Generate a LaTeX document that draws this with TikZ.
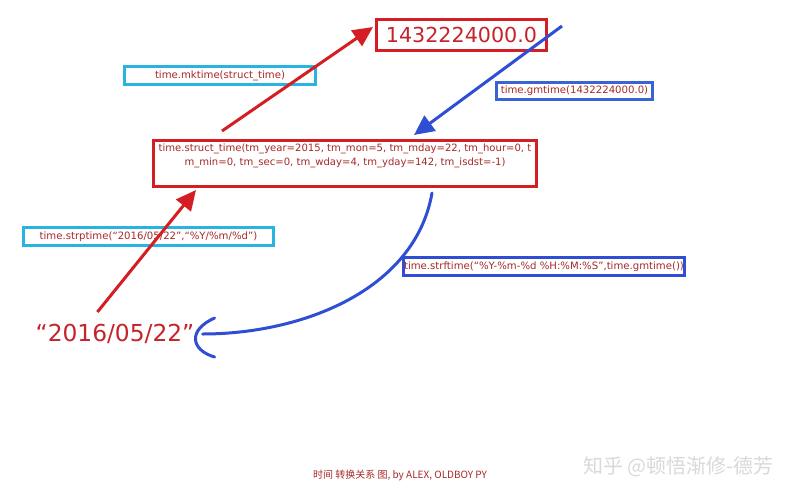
\documentclass[tikz,border=0pt]{standalone}
\usepackage{fontspec}
\setmainfont{DejaVu Sans}
\newfontfamily\cjk{Noto Sans CJK SC}
\usetikzlibrary{arrows.meta,calc}
\definecolor{redline}{RGB}{212,30,36}
\definecolor{redtext}{RGB}{196,36,42}
\definecolor{labeltext}{RGB}{165,42,40}
\definecolor{cyanline}{RGB}{40,180,225}
\definecolor{blueline}{RGB}{48,78,212}
\definecolor{bluebox}{RGB}{58,100,214}
\begin{document}
\begin{tikzpicture}[x=0.75pt,y=-0.75pt,
  box/.style={draw,line width=2.25pt,inner sep=0pt,text=labeltext,
    font=\fontsize{7.6}{9}\selectfont},
  redbox/.style={box,draw=redline},
  cyanbox/.style={box,draw=cyanline},
  bluebox/.style={box,draw=bluebox},
  redarrow/.style={draw=redline,line width=2.25pt,
    -{Triangle[length=15pt,width=14pt]},fill=redline},
  bluearrow/.style={draw=blueline,line width=2.25pt,
    -{Triangle[length=15pt,width=14pt]},fill=blueline},
  bluecurve/.style={draw=blueline,line width=2.25pt,line cap=round}]
\useasboundingbox[fill=white] (0,0) rectangle (795,500);

% boxes
\node[redbox,minimum width=127.5pt,minimum height=23.25pt,text=redtext,
  font=\fontsize{15.5}{18}\selectfont] (ts) at (461.5,35) {1432224000.0};
\node[cyanbox,minimum width=143.25pt,minimum height=13.5pt] (mk) at (220,75.5) {time.mktime(struct\_time)};
\node[bluebox,minimum width=117pt,minimum height=12.75pt] (gm) at (574.5,91) {time.gmtime(1432224000.0)};
\node[redbox,minimum width=287.25pt,minimum height=34.5pt] (st) at (345,163.5) {};
\node[text=labeltext,align=center,inner sep=0pt,
  font=\fontsize{7.55}{10.5}\selectfont] (stt) at (345,156)
  {time.struct\_time(tm\_year=2015, tm\_mon=5, tm\_mday=22, tm\_hour=0, t\\
   m\_min=0, tm\_sec=0, tm\_wday=4, tm\_yday=142, tm\_isdst=-1)};
\node[cyanbox,minimum width=187.5pt,minimum height=13.5pt] (sp) at (148.5,236.5) {time.strptime(“2016/05/22”,“\%Y/\%m/\%d”)};
\node[bluebox,draw=blueline,minimum width=210.75pt,minimum height=13.5pt] (sf) at (544,266.5) {time.strftime(“\%Y-\%m-\%d \%H:\%M:\%S”,time.gmtime())};
\node[text=redtext,inner sep=0pt,font=\fontsize{17.5}{20}\selectfont] (date) at (115,334) {“2016/05/22”};

% captions
\node[text=labeltext,inner sep=0pt,font=\cjk\fontsize{7.5}{9}\selectfont] (cap) at (400,475) {时间 转换关系 图, by ALEX, OLDBOY PY};
\node[text=gray!30,inner sep=0pt,font=\cjk\fontsize{15}{18}\selectfont,anchor=west] (wm) at (583,467) {知乎 @顿悟渐修-德芳};

% arrows
\path[redarrow] ($(st.north west)+(70,-8)$) -- ($(ts.north west)+(-2,9)$);
\path[bluearrow] ($(ts.north east)+(14,8)$) -- ($(st.north west)+(262,-4)$);
\path[redarrow] ($(date.north west)+(62,-12)$) -- ($(st.south west)+(44,2)$);
\path[bluecurve] ($(st.south west)+(280,5)$) .. controls ($(st.south west)+(263,102)$) and ($(date.east)+(108,0)$) .. ($(date.east)+(8,0)$);
\path[bluecurve] ($(date.east)+(20,-16)$) .. controls ($(date.east)+(-7,-4)$) and ($(date.east)+(-4,16)$) .. ($(date.east)+(20,23)$);
\end{tikzpicture}
\end{document}
